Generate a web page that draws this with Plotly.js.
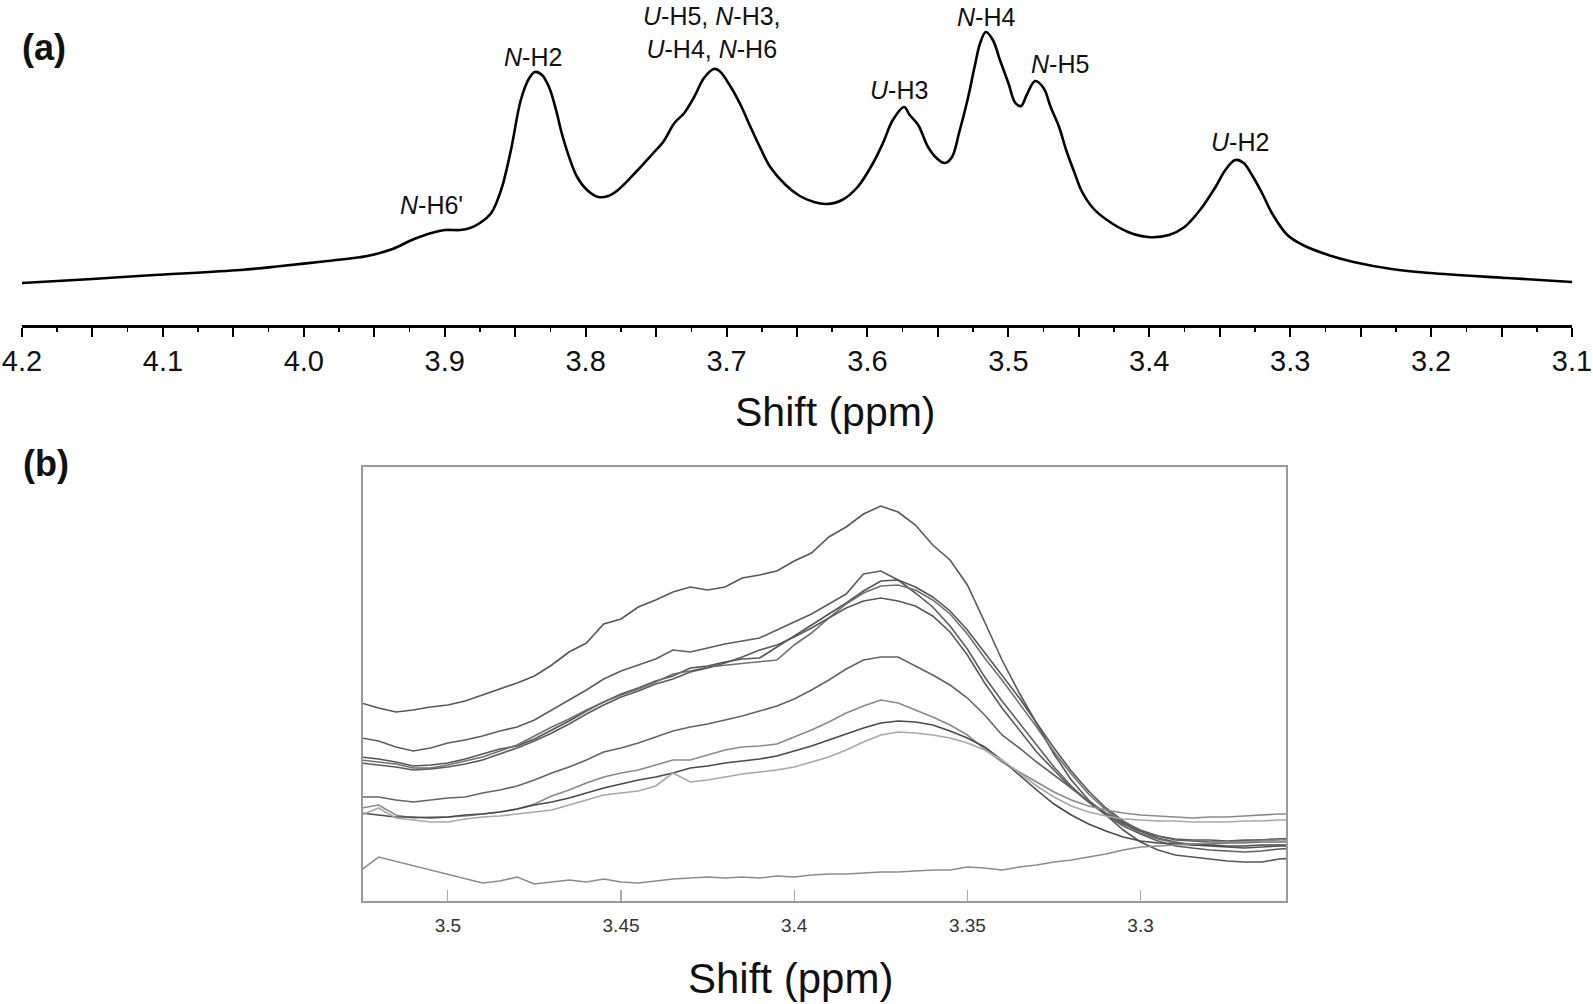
<!DOCTYPE html>
<html>
<head>
<meta charset="utf-8">
<script src="https://cdn.plot.ly/plotly-3.0.1.min.js"></script>
<style>html,body{margin:0;padding:0;background:#fff;}#chart{width:1593px;height:1004px;}</style>
</head>
<body>
<div id="chart"></div>
<script>
// ---------- Panel (a): full 1H spectrum ----------
const specShift = [4.2, 4.15, 4.106, 4.045, 4.016, 3.983, 3.955, 3.937, 3.925, 3.918, 3.907, 3.900, 3.889, 3.882, 3.875, 3.867, 3.860, 3.853, 3.846, 3.840, 3.836, 3.831, 3.826, 3.821, 3.817, 3.811, 3.806, 3.799, 3.791, 3.784, 3.777, 3.763, 3.752, 3.745, 3.737, 3.730, 3.723, 3.716, 3.709, 3.705, 3.697, 3.690, 3.683, 3.676, 3.669, 3.658, 3.648, 3.638, 3.629, 3.618, 3.607, 3.596, 3.589, 3.582, 3.574, 3.570, 3.564, 3.557, 3.551, 3.545, 3.540, 3.535, 3.529, 3.524, 3.520, 3.516, 3.511, 3.506, 3.500, 3.495, 3.491, 3.487, 3.481, 3.475, 3.470, 3.464, 3.459, 3.453, 3.448, 3.440, 3.430, 3.415, 3.401, 3.386, 3.375, 3.364, 3.353, 3.346, 3.339, 3.333, 3.328, 3.320, 3.313, 3.302, 3.291, 3.273, 3.255, 3.228, 3.201, 3.146, 3.100];
const specIntensity = [42, 46, 50, 55, 59, 64, 69, 76, 84, 88, 93, 95, 95, 97, 102, 112, 135, 175, 225, 247, 253, 250, 238, 215, 192, 165, 148, 135, 128, 129, 135, 155, 172, 183, 202, 212, 228, 247, 256, 254, 238, 220, 198, 177, 158, 140, 129, 123, 121, 125, 138, 162, 182, 205, 218, 210, 200, 178, 167, 162, 168, 192, 225, 258, 282, 293, 285, 265, 242, 222, 219, 230, 244, 237, 218, 198, 175, 152, 134, 117, 105, 93, 88, 90, 98, 115, 138, 155, 165, 162, 152, 132, 112, 90, 80, 70, 63, 56, 52, 47, 43];
const specTickVals = [4.2, 4.15, 4.1, 4.05, 4.0, 3.95, 3.9, 3.85, 3.8, 3.75, 3.7, 3.65, 3.6, 3.55, 3.5, 3.45, 3.4, 3.35, 3.3, 3.25, 3.2, 3.15, 3.1];
const specTickText = ['4.2', '', '4.1', '', '4.0', '', '3.9', '', '3.8', '', '3.7', '', '3.6', '', '3.5', '', '3.4', '', '3.3', '', '3.2', '', '3.1'];

const peakLabels = ["<i>N</i>-H6'", '<i>N</i>-H2', '<i>U</i>-H5, <i>N</i>-H3,<br><i>U</i>-H4, <i>N</i>-H6', '<i>U</i>-H3', '<i>N</i>-H4', '<i>N</i>-H5', '<i>U</i>-H2'];

// ---------- Panel (b): zoom of the U-H2 region, several spectra ----------
const zoomShift = [3.525, 3.52, 3.515, 3.51, 3.505, 3.5, 3.495, 3.49, 3.485, 3.48, 3.475, 3.47, 3.465, 3.46, 3.455, 3.45, 3.445, 3.44, 3.435, 3.43, 3.425, 3.42, 3.415, 3.41, 3.405, 3.4, 3.395, 3.39, 3.385, 3.38, 3.375, 3.37, 3.365, 3.36, 3.355, 3.35, 3.345, 3.34, 3.335, 3.33, 3.325, 3.32, 3.315, 3.31, 3.305, 3.3, 3.295, 3.29, 3.285, 3.28, 3.275, 3.27, 3.265, 3.26, 3.255];
const zoom1 = [198,193,189,191,194,196,200,206,212,218,225,236,249,258,277,282,294,301,309,314,311,314,323,326,330,340,348,364,374,387,395,389,376,356,341,316,279,241,208,177,147,121,101,86,71,59,51,46,44,42,40,39,39,42,43];
const zoom2 = [163,160,154,150,153,158,161,165,170,174,181,191,201,211,222,230,236,242,251,249,253,257,260,263,271,279,287,297,307,327,330,321,308,294,275,252,224,200,178,155,134,115,99,86,75,67,60,55,53,51,50,49,50,52,53];
const zoom3 = [144,142,139,135,136,138,142,147,152,155,162,171,180,190,199,207,213,220,225,233,235,239,242,243,254,265,276,287,298,310,320,321,314,304,290,271,248,225,203,178,153,130,110,93,80,70,63,59,56,55,54,53,54,55,55];
const zoom4 = [141,139,137,133,133,136,140,144,150,156,165,174,182,191,199,206,212,219,227,230,234,null,null,null,241,256,268,283,297,308,315,316,311,301,287,267,243,221,198,174,149,127,107,91,78,68,62,58,57,57,58,58,59,59,59];
const zoom5 = [138,136,134,131,132,134,137,141,147,153,160,168,177,187,196,204,210,217,222,229,233,238,244,251,256,264,273,283,293,300,303,300,295,285,269,246,218,193,171,149,131,113,99,87,77,70,65,62,61,61,60,61,61,62,62];
const zoom6 = [104,104,101,99,101,103,104,108,111,115,121,128,134,141,149,153,158,164,170,174,177,181,185,190,195,202,211,221,232,241,244,244,235,226,216,203,186,166,153,139,126,113,100,88,79,71,65,61,60,59,59,60,61,62,63];
const zoom7 = [93,96,86,83,84,84,85,87,89,92,97,105,111,118,124,128,131,136,141,141,146,151,154,155,157,164,171,179,188,195,201,198,191,184,176,166,152,139,129,119,109,101,95,91,88,86,85,84,83,84,84,85,86,87,87];
const zoom8 = [88,86,84,84,83,84,86,87,89,92,96,99,103,108,113,117,121,124,128,133,135,138,140,142,145,150,155,161,167,173,178,180,179,176,170,163,154,141,126,111,97,86,77,70,64,60,58,57,56,56,55,55,56,56,56];
const zoom9 = [86,93,83,81,79,79,82,84,85,87,89,91,96,101,106,108,110,115,128,119,121,124,127,129,131,134,139,144,151,159,166,169,168,166,163,158,151,141,128,115,104,95,89,85,82,81,80,80,79,79,79,80,80,81,81];
const zoom10 = [31,44,null,null,null,null,null,18,20,24,17,19,21,19,22,19,18,20,22,23,24,23,24,23,25,24,26,27,27,28,29,29,30,31,31,34,33,31,34,36,39,41,44,47,51,54,55,56,57,58,59,59,60,61,61];
const zoomTickVals = [3.5, 3.45, 3.4, 3.35, 3.3];
const zoomTickText = ['3.5', '3.45', '3.4', '3.35', '3.3'];

const zoomSeries = [zoom1, zoom2, zoom3, zoom4, zoom5, zoom6, zoom7, zoom8, zoom9, zoom10];
const zoomColors = ['#585858', '#5e5e5e', '#555555', '#707070', '#5a5a5a', '#646464', '#8a8a8a', '#4a4a4a', '#a8a8a8', '#8c8c8c'];

// ---------- helpers for layout placement (pixels -> paper) ----------
const W = 1593, H = 1004;
const px = v => v / W;
const py = v => 1 - v / H;
const FONT = 'Liberation Sans, Arial, Helvetica, sans-serif';

const traces = [{
  x: specShift, y: specIntensity, xaxis: 'x', yaxis: 'y',
  type: 'scatter', mode: 'lines',
  line: {color: '#000', width: 2.6, shape: 'spline', smoothing: 1.0},
  hoverinfo: 'skip'
}];
zoomSeries.forEach((s, i) => {
  traces.push({
    x: zoomShift, y: s, xaxis: 'x2', yaxis: 'y2',
    type: 'scatter', mode: 'lines', connectgaps: true,
    line: {color: zoomColors[i], width: 1.6},
    hoverinfo: 'skip'
  });
});

const labelPos = [[431, 205], [533, 57], [712, 33], [899, 90], [986, 17], [1060, 64], [1240, 142]];
const annotations = peakLabels.map((t, i) => ({
  text: t, xref: 'paper', yref: 'paper',
  x: px(labelPos[i][0]), y: py(labelPos[i][1]),
  xanchor: 'center', yanchor: 'middle', showarrow: false,
  font: {family: FONT, size: 25, color: '#111'}
}));
annotations.push(
  {text: '<b>(a)</b>', xref: 'paper', yref: 'paper', x: px(44), y: py(48), xanchor: 'center', yanchor: 'middle', showarrow: false, font: {family: FONT, size: 36, color: '#111'}},
  {text: '<b>(b)</b>', xref: 'paper', yref: 'paper', x: px(46), y: py(463), xanchor: 'center', yanchor: 'middle', showarrow: false, font: {family: FONT, size: 36, color: '#111'}},
  {text: 'Shift (ppm)', xref: 'paper', yref: 'paper', x: px(835), y: py(412), xanchor: 'center', yanchor: 'middle', showarrow: false, font: {family: FONT, size: 41, color: '#111'}},
  {text: 'Shift (ppm)', xref: 'paper', yref: 'paper', x: px(790), y: py(978), xanchor: 'center', yanchor: 'middle', showarrow: false, font: {family: FONT, size: 42, color: '#111'}}
);

const layout = {
  width: W, height: H,
  margin: {l: 0, r: 0, t: 0, b: 0, pad: 0},
  paper_bgcolor: '#fff', plot_bgcolor: 'rgba(0,0,0,0)',
  showlegend: false,
  font: {family: FONT, color: '#111'},
  xaxis: {
    domain: [px(22), px(1572)], range: [4.2, 3.1], anchor: 'y',
    showline: true, linecolor: '#000', linewidth: 2.5,
    ticks: 'outside', ticklen: 9, tickwidth: 2, tickcolor: '#000',
    tickmode: 'array', tickvals: specTickVals, ticktext: specTickText,
    tickfont: {family: FONT, size: 29, color: '#111'},
    minor: {ticks: 'outside', ticklen: 4, tickwidth: 1.5, tickcolor: '#000', tickmode: 'linear', tick0: 0, dtick: 0.025},
    showgrid: false, zeroline: false, fixedrange: true
  },
  yaxis: {
    domain: [py(325), 1], range: [0, 325], anchor: 'x',
    visible: false, showgrid: false, zeroline: false, fixedrange: true
  },
  xaxis2: {
    domain: [px(363), px(1286)], range: [3.5245, 3.258], anchor: 'y2',
    showline: true, mirror: true, linecolor: '#9a9a9a', linewidth: 2,
    ticks: 'inside', ticklen: 11, tickwidth: 1.2, tickcolor: '#aaaaaa',
    tickmode: 'array', tickvals: zoomTickVals, ticktext: zoomTickText,
    tickfont: {family: FONT, size: 19, color: '#333'},
    ticklabelstandoff: 6,
    showgrid: false, zeroline: false, fixedrange: true
  },
  yaxis2: {
    domain: [py(901), py(467)], range: [0, 434], anchor: 'x2',
    showline: true, mirror: true, linecolor: '#9a9a9a', linewidth: 2,
    ticks: '', showticklabels: false,
    showgrid: false, zeroline: false, fixedrange: true
  },
  annotations: annotations
};

Plotly.newPlot('chart', traces, layout, {displayModeBar: false, staticPlot: true});
</script>
</body>
</html>
